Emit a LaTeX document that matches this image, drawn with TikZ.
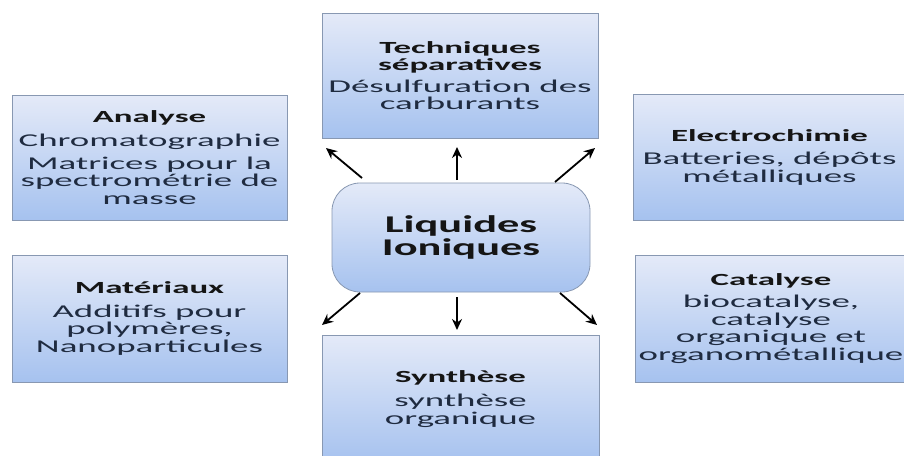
\documentclass[tikz,border=0pt]{standalone}
\usepackage{fontspec}
\setmainfont[FakeStretch=2.05]{Carlito}
\newfontfamily\liqfont[FakeStretch=1.85]{Carlito}
\usetikzlibrary{arrows.meta}
\definecolor{boxtop}{HTML}{E4EAF8}
\definecolor{boxbot}{HTML}{A6C2EF}
\definecolor{boxline}{HTML}{8898B2}
\definecolor{titlec}{HTML}{151515}
\definecolor{bodyc}{HTML}{1F2B40}
\tikzset{
 topic/.style={draw=boxline, line width=0.8pt, top color=boxtop, bottom color=boxbot,
   inner sep=0pt, align=center, text=bodyc, font=\fontsize{18}{17.5}\selectfont},
 central/.style={topic, rounded corners=28pt, text=titlec,
   font=\liqfont\bfseries\fontsize{24}{23}\selectfont},
 conn/.style={-{Stealth[length=11pt,width=10pt]}, line width=1.8pt, black},
}
\newcommand{\ttl}[1]{{\color{titlec}\bfseries\fontsize{17}{17}\selectfont #1}}
\begin{document}
\begin{tikzpicture}[x=1pt,y=-1pt]
\useasboundingbox (0,0) rectangle (904,455);
\clip (0,0) rectangle (904,455);
\fill[white] (0,0) rectangle (904,455);

\node[topic, minimum width=275pt, minimum height=125pt] (analyse) at (149.5,157.5)
  {\ttl{Analyse}\\[7pt] Chromatographie\\[5pt] Matrices pour la\\ spectrométrie de\\ masse};
\node[topic, minimum width=275pt, minimum height=127pt] (mat) at (149.5,318.5)
  {\ttl{Matériaux}\\[6pt] Additifs pour\\ polymères,\\ Nanoparticules};
\node[topic, minimum width=276pt, minimum height=125pt] (tech) at (460,75.5)
  {\ttl{Techniques}\\ \ttl{séparatives}\\[4pt] Désulfuration des\\ carburants};
\node[topic, minimum width=273pt, minimum height=126pt] (elec) at (769.5,157)
  {\ttl{Electrochimie}\\[6pt] Batteries, dépôts\\ métalliques};
\node[topic, minimum width=272pt, minimum height=127pt] (cat) at (771,318.5)
  {\ttl{Catalyse}\\[5pt] biocatalyse,\\ catalyse\\ organique et\\ organométallique};
\node[topic, minimum width=277pt, minimum height=128pt] (syn) at (460.5,399)
  {\ttl{Synthèse}\\[7pt] synthèse\\ organique};
\node[central, minimum width=258pt, minimum height=109pt] (liq) at (461,237.5)
  {Liquides\\ Ioniques};

\coordinate (tlA) at (362,178); \coordinate (tlB) at (326,148);
\coordinate (tcA) at (457,180); \coordinate (tcB) at (457,147);
\coordinate (trA) at (555,182); \coordinate (trB) at (595,148);
\coordinate (blA) at (360,293); \coordinate (blB) at (322,325);
\coordinate (bcA) at (457,297); \coordinate (bcB) at (457,330);
\coordinate (brA) at (560,293); \coordinate (brB) at (597,325);
\draw[conn] (tlA) -- (tlB);
\draw[conn] (tcA) -- (tcB);
\draw[conn] (trA) -- (trB);
\draw[conn] (blA) -- (blB);
\draw[conn] (bcA) -- (bcB);
\draw[conn] (brA) -- (brB);
\end{tikzpicture}
\end{document}
